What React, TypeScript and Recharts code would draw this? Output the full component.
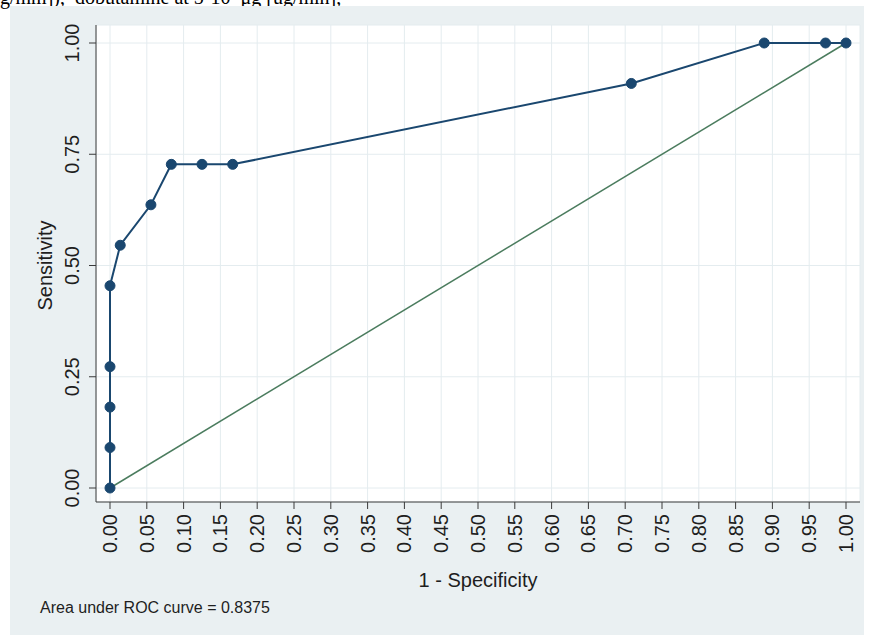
import {LineChart, Line, XAxis, YAxis, CartesianGrid, Label} from "recharts";

// ROC points (1 - specificity, sensitivity)
const fpr = [0, 0, 0, 0, 0, 0.0139, 0.0556, 0.0833, 0.125, 0.1667, 0.7083, 0.8889, 0.9722, 1];
const tpr = [0, 0.0909, 0.1818, 0.2727, 0.4545, 0.5455, 0.6364, 0.7273, 0.7273, 0.7273, 0.9091, 1, 1, 1];

// diagonal reference line
const refX = [0, 1];
const refY = [0, 1];

const xTicks = [0, 0.05, 0.1, 0.15, 0.2, 0.25, 0.3, 0.35, 0.4, 0.45, 0.5, 0.55, 0.6, 0.65, 0.7, 0.75, 0.8, 0.85, 0.9, 0.95, 1];
const yTicks = [0, 0.25, 0.5, 0.75, 1];

const rocData = fpr.map((x, i) => ({x, y: tpr[i]}));
const refData = refX.map((x, i) => ({x, y: refY[i]}));

const font = '"Liberation Sans", Arial, sans-serif';
const ink = "#1e1e1e";
const navy = "#1a476f";

const XTick = (props: any) => {
    const {x, y, payload} = props;
    return (
        <text transform={`translate(${x + 7},${y + 3}) rotate(-90)`} textAnchor="end"
              fontSize={20} fontFamily={font} fill={ink}>
            {Number(payload.value).toFixed(2)}
        </text>
    );
};

const YTick = (props: any) => {
    const {x, y, payload} = props;
    return (
        <text transform={`translate(${x - 8},${y}) rotate(-90)`} textAnchor="middle"
              fontSize={20} fontFamily={font} fill={ink}>
            {Number(payload.value).toFixed(2)}
        </text>
    );
};

const YTitle = (props: any) => {
    const {viewBox} = props;
    const cy = viewBox.y + viewBox.height / 2 + 2;
    return (
        <text transform={`translate(52,${cy}) rotate(-90)`} textAnchor="middle"
              fontSize={20} fontFamily={font} fill={ink}>
            Sensitivity
        </text>
    );
};

const XTitle = (props: any) => {
    const {viewBox} = props;
    const cx = viewBox.x + viewBox.width / 2;
    return (
        <text x={cx} y={587} textAnchor="middle" fontSize={20} fontFamily={font} fill={ink}>
            1 - Specificity
        </text>
    );
};

const App = () => {
    return (
        <div style={{position: "absolute", left: 0, top: 0, width: 870, height: 637, overflow: "hidden", background: "#fff"}}>
            <div style={{
                position: "absolute", left: 0, top: -13, whiteSpace: "nowrap",
                fontFamily: '"Liberation Serif", "Times New Roman", serif', fontSize: 20, lineHeight: "20px", color: "#000"
            }}>
                g/mm]),&nbsp; dobutamine at 5-10&nbsp; μg [ug/min],
            </div>
            <div style={{position: "absolute", left: 10, top: 6, width: 854, height: 629, background: "#eaf0f2"}}/>
            <div style={{position: "absolute", left: 0, top: 0}}>
                <LineChart width={870} height={637} margin={{top: 25, right: 10, left: 46, bottom: 55}}>
                    <CartesianGrid fill="#ffffff" stroke="#e4ecef" strokeWidth={1}/>
                    <XAxis type="number" dataKey="x" domain={[0, 1]} ticks={xTicks} interval={0}
                           padding={{left: 14, right: 14}} height={80} tickSize={7}
                           axisLine={{stroke: "#3a3a3a"}} tickLine={{stroke: "#3a3a3a"}} tick={<XTick/>}>
                        <Label content={<XTitle/>}/>
                    </XAxis>
                    <YAxis type="number" dataKey="y" domain={[0, 1]} ticks={yTicks} interval={0}
                           padding={{top: 18, bottom: 14}} width={50} tickSize={7}
                           axisLine={{stroke: "#3a3a3a"}} tickLine={{stroke: "#3a3a3a"}} tick={<YTick/>}>
                        <Label content={<YTitle/>}/>
                    </YAxis>
                    <Line data={refData} dataKey="y" type="linear" stroke="#4b7c5e" strokeWidth={1.5}
                          dot={false} activeDot={false} isAnimationActive={false}/>
                    <Line data={rocData} dataKey="y" type="linear" stroke={navy} strokeWidth={2}
                          dot={{r: 5, fill: navy, stroke: navy, strokeWidth: 1}} activeDot={false}
                          isAnimationActive={false}/>
                </LineChart>
            </div>
            <div style={{
                position: "absolute", left: 40, top: 600, whiteSpace: "nowrap",
                fontFamily: font, fontSize: 16, lineHeight: "16px", color: ink
            }}>
                Area under ROC curve = 0.8375
            </div>
        </div>
    );
};

export default App;
